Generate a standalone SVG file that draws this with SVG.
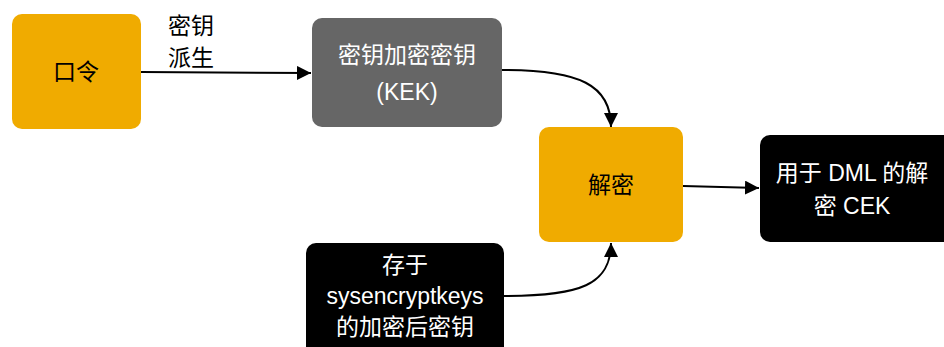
<svg xmlns="http://www.w3.org/2000/svg" width="944" height="347" viewBox="0 0 944 347">
<style>
text{font-family:"Liberation Sans","Noto Sans CJK SC",sans-serif;font-size:23px;text-anchor:middle}
.w{fill:#fff}.b{fill:#000}
.c{fill:none;stroke:#000;stroke-width:2}
</style>
<defs>
<marker id="ah" viewBox="0 0 10 10" refX="10" refY="5" markerWidth="14" markerHeight="14" markerUnits="userSpaceOnUse" orient="auto">
<path d="M0,0L10,5L0,10z" fill="#000"/>
</marker>
</defs>
<rect width="944" height="347" fill="#fff"/>
<g id="connectors">
<path class="c" d="M141,72L311,73" marker-end="url(#ah)"/>
<path class="c" d="M502,70C580,70 611,85 611,127" marker-end="url(#ah)"/>
<path class="c" d="M683,186L759,188" marker-end="url(#ah)"/>
<path class="c" d="M504,296C580,296 611,285 611,243" marker-end="url(#ah)"/>
<text class="b" x="191" y="34">密钥</text>
<text class="b" x="191" y="66">派生</text>
</g>
<g id="password">
<rect x="12" y="14" width="129" height="115" rx="10" fill="#F0AB00"/>
<text class="b" x="76" y="80">口令</text>
</g>
<g id="kek">
<rect x="312" y="18" width="190" height="109" rx="10" fill="#666"/>
<text class="w" x="407" y="63">密钥加密密钥</text>
<text class="w" x="407" y="100">(KEK)</text>
</g>
<g id="decrypt">
<rect x="539" y="127" width="144" height="115" rx="10" fill="#F0AB00"/>
<text class="b" x="611" y="193">解密</text>
</g>
<g id="cek">
<rect x="760" y="135" width="194" height="107" rx="10" fill="#000"/>
<text class="w" x="852" y="181">用于 DML 的解</text>
<text class="w" x="852" y="214">密 CEK</text>
</g>
<g id="stored">
<rect x="306" y="243" width="198" height="114" rx="10" fill="#000"/>
<text class="w" x="405" y="273">存于</text>
<text class="w" x="405" y="304">sysencryptkeys</text>
<text class="w" x="405" y="335">的加密后密钥</text>
</g>
</svg>
